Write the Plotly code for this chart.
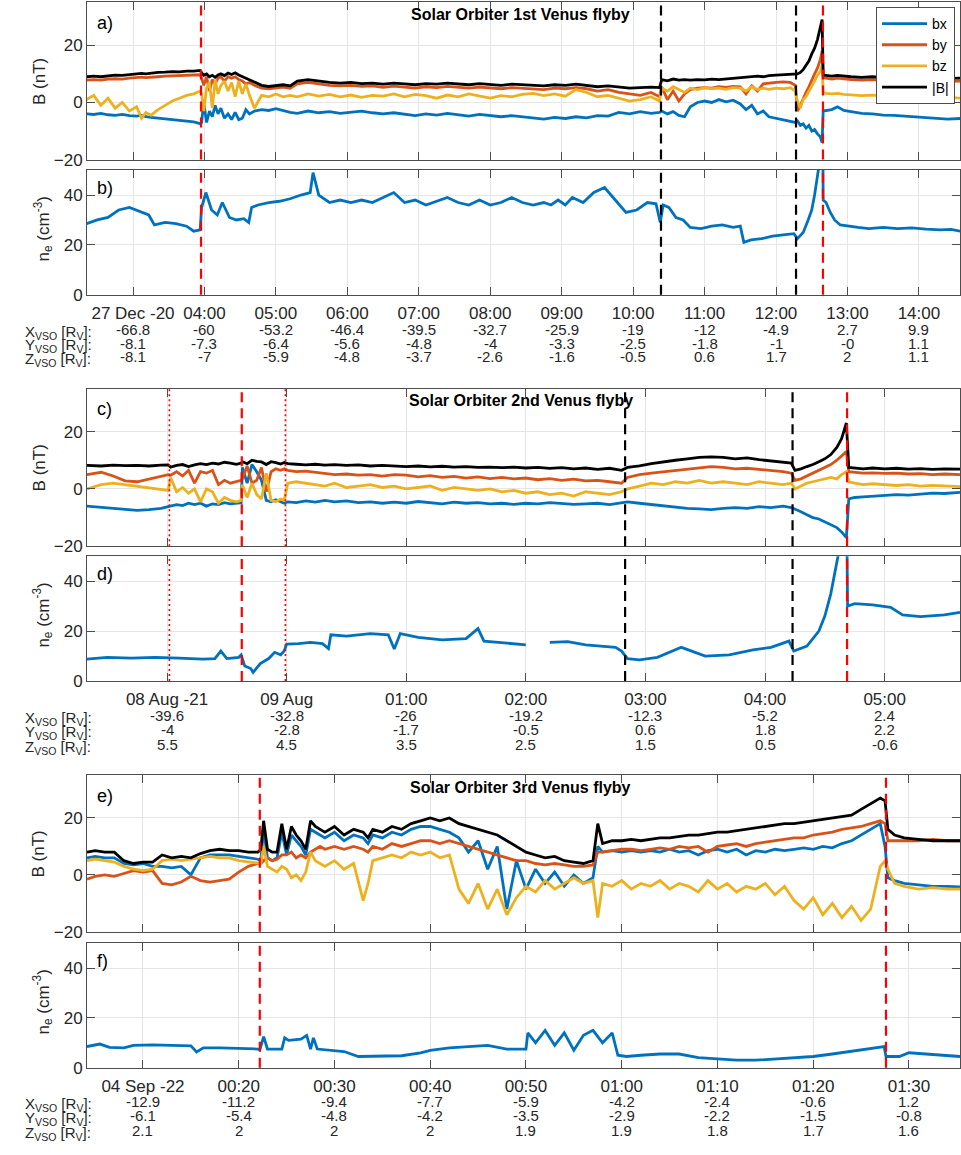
import numpy as np
import pandas as pd
import plotly.graph_objects as go

W, H = 961, 1155
X0, X1 = 87, 960

C_BX, C_BY, C_BZ, C_BT = "#0072BD", "#D95319", "#EDB120", "#000000"
FONT = "Liberation Sans, Arial, sans-serif"
TXT = "#262626"

# ---------------- flyby 1 : 27 Dec 2020 (time in hours) ----------------
t_b1 = [2.35, 2.45, 2.55, 2.65, 2.75, 2.85, 2.95, 3.05, 3.12, 3.18,
        3.25, 3.35, 3.45, 3.55, 3.65, 3.75, 3.85, 3.94, 3.96, 3.99,
        4.03, 4.07, 4.11, 4.15, 4.19, 4.23, 4.28, 4.33, 4.38, 4.43,
        4.48, 4.53, 4.58, 4.63, 4.70, 4.80, 4.90, 5.00, 5.10, 5.20,
        5.30, 5.45, 5.60, 5.75, 5.90, 6.05, 6.20, 6.35, 6.50, 6.65,
        6.80, 6.95, 7.10, 7.25, 7.40, 7.55, 7.70, 7.85, 8.00, 8.15,
        8.30, 8.45, 8.60, 8.75, 8.90, 9.05, 9.20, 9.35, 9.50, 9.65,
        9.80, 9.95, 10.10, 10.25, 10.37, 10.40, 10.48, 10.56, 10.64, 10.72,
        10.80, 10.90, 11.00, 11.10, 11.20, 11.30, 11.40, 11.50, 11.58, 11.66,
        11.74, 11.82, 11.90, 12.00, 12.10, 12.20, 12.27, 12.30, 12.34, 12.38,
        12.42, 12.46, 12.50, 12.54, 12.58, 12.62, 12.645, 12.66, 12.70, 12.78,
        12.86, 12.95, 13.05, 13.20, 13.35, 13.50, 13.65, 13.80, 13.95, 14.10,
        14.25, 14.40, 14.58]
bt1 = [9.0, 9.2, 9.0, 9.4, 9.6, 9.5, 9.8, 10.0, 10.2, 10.0,
       10.3, 10.5, 10.6, 10.8, 10.7, 11.0, 11.0, 11.2, 10.4, 9.5,
       10.0, 9.0, 9.5, 8.8, 9.6, 10.0, 9.4, 10.3, 9.8, 10.4,
       9.6, 9.0, 8.4, 8.0, 7.0, 6.0, 5.6, 5.8, 6.2, 5.8,
       7.5, 8.0, 7.5, 7.0, 6.8, 7.0, 6.6, 6.8, 6.4, 6.8,
       6.5, 6.2, 6.6, 6.4, 6.8, 6.5, 6.2, 6.6, 6.3, 6.0,
       6.4, 6.2, 6.0, 5.8, 6.2, 6.0, 6.4, 6.0, 5.5, 5.8,
       5.4, 5.0, 5.2, 5.4, 5.2, 8.0, 7.6, 8.2, 7.8, 8.0,
       7.8, 8.0, 7.9, 8.2, 8.0, 8.2, 8.3, 8.5, 8.8, 9.0,
       9.2, 9.0, 9.4, 9.6, 9.8, 10.0, 10.2, 10.0, 10.5, 11.5,
       13.0, 14.5, 17.0, 19.0, 22.0, 26.0, 29.0, 9.6, 9.4, 9.2,
       9.5, 9.2, 9.0, 8.8, 9.0, 8.7, 8.8, 8.6, 8.7, 8.5,
       8.6, 8.4, 8.5]
by1 = [7.8, 8.0, 7.8, 8.2, 8.3, 8.2, 8.5, 8.6, 8.9, 8.7,
       8.9, 9.0, 9.2, 9.3, 9.2, 9.5, 9.6, 9.7, 8.5, 6.0,
       9.0, 4.0, 8.0, 6.5, 8.5, 9.0, 7.5, 9.0, 8.5, 9.0,
       8.0, 7.5, 6.5, 7.0, 6.0, 5.0, 4.8, 5.0, 5.4, 5.0,
       6.5, 7.0, 6.5, 6.0, 5.8, 6.0, 5.6, 5.8, 5.3, 5.7,
       5.4, 5.0, 5.5, 5.2, 5.6, 5.3, 5.0, 5.4, 5.0, 4.8,
       5.2, 5.0, 4.8, 4.5, 5.0, 4.8, 5.2, 4.8, 4.0, 4.5,
       3.5, 3.0, 2.5, 3.5, 2.0, 5.5, 1.0, 4.0, 0.5, 3.0,
       4.5, 5.0, 5.2, 5.0, 5.5, 5.3, 5.6, 5.5, 3.0, 5.8,
       4.0, 6.5, 6.8, 7.0, 7.2, 7.0, 6.0, -3.0, -1.0, 1.5,
       3.5, 5.5, 8.0, 10.0, 12.0, 15.0, 18.0, 8.8, 8.5, 8.2,
       8.5, 8.2, 8.0, 7.8, 8.0, 7.7, 7.8, 7.6, 7.7, 7.5,
       7.6, 7.4, 7.5]
bz1 = [1.0, 2.5, -1.0, 1.5, -2.0, 0.0, -3.0, -1.5, -5.5, -3.5,
       -4.5, -2.5, -1.0, 0.5, 1.5, 2.5, 3.0, 4.0, 3.0, -3.0,
       5.0, 7.0, -2.0, 8.0, 3.0, 6.0, 7.5, 4.0, 7.0, 2.0,
       7.5, 3.0, 6.5, 2.5, -2.0, 2.5, 2.0, 3.0, 2.0, 2.5,
       2.0, 3.0, 2.2, 2.8, 2.0, 2.6, 1.8, 2.5, 2.2, 3.0,
       2.0, 2.8, 2.4, 1.5, 2.6, 2.0, 3.0, 2.2, 1.5, 2.4,
       2.0, 2.8, 3.2, 2.4, 3.0, 2.2, 4.5, 3.5, 2.0, 2.5,
       1.5, 0.5, 1.0, 2.0, 0.5, 5.0, 4.0, 5.5, 4.5, 3.5,
       5.0, 4.5, 5.2, 4.8, 5.0, 4.6, 5.2, 5.0, 4.0, 5.5,
       4.5, 5.0, 4.6, 5.0, 4.8, 5.2, 4.0, 0.5, -2.0, 1.0,
       2.0, 4.0, 6.0, 8.0, 9.5, 11.0, 13.0, 3.5, 3.2, 3.0,
       3.2, 2.8, 2.6, 2.4, 2.6, 2.2, 2.0, 2.2, 1.8, 2.0,
       1.6, 1.8, 1.5]
bx1 = [-4.0, -4.2, -3.8, -4.3, -4.5, -4.2, -4.6, -4.8, -4.5, -5.0,
       -5.2, -5.5, -5.8, -6.0, -6.2, -6.5, -6.8, -7.4, -7.0, 0.0,
       -7.0, -3.0, -5.0, -1.0, -4.0, -2.0, -5.5, -4.0, -6.0, -3.5,
       -6.0, -5.5, -2.5, -4.0, -3.0, -2.5, -2.8, -2.2, -2.8, -3.5,
       -3.8, -3.0, -3.6, -3.2, -3.8, -3.4, -3.0, -3.6, -4.0, -3.6,
       -4.2, -4.6, -4.0, -4.4, -3.8, -4.4, -4.8, -4.2, -4.6, -5.0,
       -4.6, -5.0, -5.4, -5.8, -5.2, -5.6, -5.0, -5.4, -4.6, -4.8,
       -3.5, -4.0, -3.2, -3.8, -3.5, -3.0, -4.0, -3.2, -4.5, -5.0,
       -1.5, 0.0, 0.5, 0.0, 1.0, 0.2, 0.8, -0.5, -2.5, -1.0,
       -4.0, -3.0, -5.0, -5.5, -6.0, -6.5, -7.0, -6.5, -8.0, -7.5,
       -9.0, -8.0, -10.0, -9.5, -11.0, -12.0, -14.0, -3.0, -2.8, -2.5,
       -1.5, -2.8, -3.2, -3.8, -4.0, -4.4, -4.5, -4.8, -5.0, -5.4,
       -5.5, -5.8, -5.6]

t_ne1 = [2.35, 2.5, 2.65, 2.8, 2.95, 3.05, 3.15, 3.22, 3.3, 3.45,
         3.6, 3.75, 3.85, 3.94, 3.96, 4.02, 4.1, 4.18, 4.25, 4.35,
         4.45, 4.55, 4.62, 4.66, 4.75, 4.9, 5.05, 5.2, 5.35, 5.48,
         5.52, 5.6, 5.75, 5.9, 6.05, 6.2, 6.35, 6.5, 6.65, 6.8,
         6.95, 7.1, 7.25, 7.4, 7.55, 7.7, 7.85, 8.0, 8.15, 8.3,
         8.45, 8.6, 8.75, 8.85, 8.95, 9.05, 9.15, 9.3, 9.45, 9.6,
         9.75, 9.9, 10.05, 10.2, 10.32, 10.38, 10.42, 10.5, 10.6, 10.7,
         10.8, 10.95, 11.1, 11.25, 11.4, 11.5, 11.55, 11.65, 11.8, 11.95,
         12.1, 12.25, 12.3, 12.38, 12.45, 12.5, 12.54, 12.58, 12.62, 12.655,
         12.66, 12.7, 12.76, 12.82, 12.9, 13.0, 13.15, 13.3, 13.5, 13.7,
         13.9, 14.1, 14.3, 14.45, 14.58]
ne1 = [28.5, 30.0, 31.0, 34.0, 35.0, 34.0, 33.0, 32.0, 28.0, 29.0,
       28.5, 27.5, 25.5, 26.0, 35.0, 41.0, 34.0, 32.0, 37.0, 31.0,
       30.0, 30.5, 29.0, 35.0, 36.0, 37.0, 37.5, 38.5, 40.0, 41.0,
       49.0, 40.0, 37.0, 38.0, 37.0, 38.0, 37.0, 39.0, 41.0, 37.0,
       38.0, 36.0, 37.5, 39.0, 37.0, 36.0, 38.0, 36.0, 37.0, 39.0,
       37.0, 36.0, 37.0, 36.0, 38.0, 36.0, 39.0, 37.0, 41.0, 43.0,
       38.0, 33.0, 34.0, 37.0, 36.5, 29.0, 36.0, 35.0, 31.0, 30.0,
       27.0, 26.5, 27.5, 28.0, 27.0, 27.5, 21.0, 22.0, 22.5, 23.5,
       24.0, 24.5, 22.5, 25.0, 30.0, 34.0, 40.0, 50.0, 60.0, 62.0,
       38.0, 37.0, 33.0, 30.0, 28.0, 27.5, 27.0, 26.5, 27.0, 26.5,
       26.8, 26.3, 26.0, 26.2, 25.5]

tick_h1 = [3, 4, 5, 6, 7, 8, 9, 10, 11, 12, 13, 14]
tick_lbl1 = ["27 Dec -20", "04:00", "05:00", "06:00", "07:00", "08:00", "09:00",
             "10:00", "11:00", "12:00", "13:00", "14:00"]
xvso1 = ["-66.8", "-60", "-53.2", "-46.4", "-39.5", "-32.7", "-25.9", "-19", "-12", "-4.9", "2.7", "9.9"]
yvso1 = ["-8.1", "-7.3", "-6.4", "-5.6", "-4.8", "-4", "-3.3", "-2.5", "-1.8", "-1", "-0", "1.1"]
zvso1 = ["-8.1", "-7", "-5.9", "-4.8", "-3.7", "-2.6", "-1.6", "-0.5", "0.6", "1.7", "2", "1.1"]
marks1 = [(3.952, "red", "dash"), (10.39, "black", "dash"),
          (12.28, "black", "dash"), (12.657, "red", "dash")]

# ---------------- flyby 2 : 08/09 Aug 2021 (hours from 08 Aug 00:00) ----------------
t_b2 = [22.33, 22.45, 22.55, 22.65, 22.75, 22.85, 22.95, 23.01, 23.03, 23.08,
        23.13, 23.18, 23.23, 23.28, 23.33, 23.38, 23.43, 23.48, 23.53, 23.58,
        23.62, 23.63, 23.67, 23.71, 23.75, 23.79, 23.83, 23.87, 23.91, 23.95,
        23.98, 24.01, 24.08, 24.16, 24.24, 24.32, 24.40, 24.50, 24.60, 24.70,
        24.80, 24.90, 25.00, 25.10, 25.20, 25.30, 25.40, 25.50, 25.60, 25.70,
        25.80, 25.90, 26.00, 26.10, 26.20, 26.30, 26.40, 26.50, 26.60, 26.70,
        26.80, 26.85, 26.95, 27.05, 27.15, 27.25, 27.35, 27.45, 27.55, 27.65,
        27.75, 27.85, 27.95, 28.05, 28.15, 28.22, 28.25, 28.30, 28.35, 28.40,
        28.45, 28.50, 28.55, 28.60, 28.64, 28.68, 28.70, 28.75, 28.82, 28.90,
        29.00, 29.10, 29.20, 29.30, 29.40, 29.50, 29.63]
bt2 = [8.2, 8.0, 8.3, 8.1, 8.2, 8.0, 8.3, 8.4, 7.6, 8.2,
       8.5, 7.8, 8.4, 8.8, 8.5, 9.0, 8.7, 9.3, 9.0, 8.6,
       9.0, 9.5, 8.8, 10.0, 9.6, 9.4, 8.5, 9.5, 9.2, 8.7,
       9.2, 8.8, 8.6, 8.4, 8.6, 8.3, 8.5, 8.2, 8.4, 8.0,
       8.2, 8.0, 7.8, 8.0, 7.7, 7.9, 7.6, 7.8, 7.5, 7.6,
       7.4, 7.6, 7.3, 7.5, 7.2, 7.4, 7.0, 7.3, 6.8, 7.2,
       6.5, 7.5, 8.0, 8.8, 9.5, 10.0, 10.5, 11.0, 11.2, 11.0,
       10.5, 10.8, 10.2, 9.8, 9.5, 9.0, 6.5, 7.0, 7.8, 8.5,
       9.5, 10.5, 12.0, 14.5, 17.5, 23.0, 7.5, 7.2, 7.0, 7.3,
       7.0, 7.2, 6.9, 7.1, 6.8, 7.0, 6.9]
by2 = [5.0, 5.8, 4.5, 2.8, 2.5, 3.5, 4.5, 5.0, 4.8, 6.0,
       4.5, 6.5, 2.0, 6.0, 5.5, 6.5, 1.5, 3.0, 2.0, 2.5,
       3.0, 3.5, 8.0, 2.0, 3.0, 7.5, -1.0, 6.0, 7.0, 6.5,
       7.0, 6.5, 6.0, 6.2, 5.8, 5.5, 5.0, 5.2, 4.8, 5.0,
       4.5, 5.0, 4.8, 4.2, 4.6, 4.0, 4.4, 3.8, 4.2, 3.6,
       4.0, 3.5, 3.8, 3.2, 3.6, 3.0, 3.4, 2.8, 3.0, 2.5,
       2.0, 4.0, 5.0, 5.5, 6.0, 6.5, 7.0, 7.5, 7.8, 7.5,
       7.0, 7.2, 6.8, 6.5, 6.0, 5.5, 3.0, 3.5, 4.5, 5.5,
       6.5, 7.5, 8.5, 10.0, 11.5, 13.0, 6.0, 5.8, 5.5, 5.6,
       5.4, 5.5, 5.2, 5.3, 5.0, 5.2, 5.0]
bz2 = [0.0, 1.5, 2.0, 1.5, 0.8, 0.5, 0.0, -0.5, 4.0, -1.0,
       0.5, -1.5, 0.0, -4.5, 0.0, -1.0, -5.0, -3.0, -4.0, -4.5,
       -4.0, 1.5, -3.0, 2.0, -2.0, -3.5, 5.5, -4.0, -4.5, -3.5,
       -4.0, 2.0, 2.5, 2.0, 1.5, 1.0, 2.0, 0.5, 1.0, 1.5,
       0.5, 1.0, 0.0, 0.5, 1.0, -0.5, 0.5, 0.0, -0.5, 0.0,
       -1.0, -0.5, -1.5, -1.0, -2.0, -1.5, -2.5, -1.0, -1.5, -2.0,
       -1.0, 0.0, 1.0, 2.0, 1.5, 2.5, 2.0, 3.0, 2.0, 2.5,
       2.0, 1.5, 2.5, 2.0, 1.5, 2.0, 0.0, 1.0, 2.0, 2.5,
       3.0, 3.5, 4.0, 3.5, 5.0, 6.0, 2.5, 2.0, 1.5, 1.8,
       1.5, 1.2, 1.5, 1.0, 1.2, 1.0, 0.8]
bx2 = [-6.0, -6.5, -6.8, -7.3, -7.5, -7.2, -6.8, -6.2, -6.0, -5.5,
       -5.8, -5.0, -5.5, -5.0, -6.0, -5.2, -5.5, -4.8, -5.2, -5.0,
       -4.8, 7.5, 2.0, 8.5, 6.0, 3.0, -4.0, -4.5, -3.8, -4.5,
       -5.0, -4.5, -4.8, -4.2, -4.6, -4.0, -4.5, -4.2, -4.8, -4.5,
       -5.0, -4.6, -5.0, -4.4, -4.8, -5.2, -4.6, -5.0, -4.8, -5.2,
       -5.0, -5.4, -5.0, -5.2, -4.8, -5.0, -5.4, -5.2, -5.0, -5.5,
       -5.0, -4.5, -5.0, -5.5, -6.0, -6.5, -6.8, -7.0, -7.2, -6.8,
       -6.5, -6.8, -6.2, -6.5, -6.0, -6.5, -7.0, -8.0, -9.0, -10.0,
       -10.5, -11.5, -12.5, -13.5, -15.0, -17.0, -3.5, -3.0, -2.8, -2.5,
       -2.2, -2.0, -2.2, -1.8, -1.5, -1.6, -1.2]

t_ne2 = [22.33, 22.5, 22.7, 22.9, 23.1, 23.3, 23.4, 23.45, 23.5, 23.6,
         23.62, 23.65, 23.7, 23.72, 23.78, 23.85, 23.9, 23.95, 23.98, 24.0,
         24.1, 24.2, 24.3, 24.35, 24.37, 24.5, 24.7, 24.85, 24.9, 24.95,
         25.1, 25.3, 25.5, 25.6, 25.65, 25.75, 25.9, 26.0, 26.01, 26.2,
         26.35, 26.5, 26.6, 26.75, 26.8, 26.85, 26.95, 27.1, 27.3, 27.5,
         27.7, 27.9, 28.05, 28.2, 28.24, 28.35, 28.45, 28.5, 28.55, 28.6,
         28.65, 28.685, 28.69, 28.75, 28.9, 29.05, 29.15, 29.3, 29.5, 29.63]
ne2 = [8.8, 9.5, 9.2, 9.5, 9.2, 8.8, 9.0, 12.0, 9.0, 9.5,
       10.5, 6.0, 5.0, 3.5, 7.0, 9.0, 11.5, 10.5, 12.0, 14.8,
       15.0, 15.5, 15.0, 13.0, 18.5, 18.0, 19.0, 18.5, 12.8, 19.0,
       17.5, 16.5, 17.0, 21.0, 16.0, 15.5, 15.0, 14.5, None, 15.5,
       15.8, 14.5, 14.0, 13.5, 12.0, 9.0, 8.5, 9.5, 13.5, 10.0,
       10.5, 12.5, 13.5, 16.0, 12.0, 14.0, 20.0, 26.0, 35.0, 48.0,
       60.0, 55.0, 30.0, 31.0, 30.5, 29.5, 26.5, 25.8, 26.5, 27.5]

tick_h2 = [23, 24, 25, 26, 27, 28, 29]
tick_lbl2 = ["08 Aug -21", "09 Aug", "01:00", "02:00", "03:00", "04:00", "05:00"]
xvso2 = ["-39.6", "-32.8", "-26", "-19.2", "-12.3", "-5.2", "2.4"]
yvso2 = ["-4", "-2.8", "-1.7", "-0.5", "0.6", "1.8", "2.2"]
zvso2 = ["5.5", "4.5", "3.5", "2.5", "1.5", "0.5", "-0.6"]
marks2 = [(23.02, "red", "dot"), (23.625, "red", "dash"), (23.99, "red", "dot"),
          (26.83, "black", "dash"), (28.23, "black", "dash"), (28.686, "red", "dash")]

# ---------------- flyby 3 : 04 Sep 2022 (minutes from 00:00) ----------------
t_b3 = [4.15, 5, 6, 7, 8, 9, 10, 11, 12, 13,
        14, 15, 16, 17, 18, 19, 20, 21, 22, 22.3,
        22.6, 23, 23.5, 24, 24.5, 25, 25.5, 26, 26.5, 27,
        27.5, 28, 28.5, 29, 30, 31, 32, 33, 33.5, 34,
        35, 36, 37, 38, 39, 40, 41, 42, 43, 44,
        45, 46, 47, 48, 49, 50, 51, 52, 53, 54,
        55, 56, 57, 57.5, 58, 59, 60, 61, 62, 63,
        64, 65, 66, 67, 68, 69, 70, 71, 72, 73,
        74, 75, 76, 77, 78, 79, 80, 81, 82, 83,
        84, 85, 86, 87, 87.5, 87.8, 88.5, 89.5, 91, 92.5,
        94, 95.33]
bt3 = [8, 8.5, 8, 8, 5, 4, 4.5, 4.5, 7, 6,
       6.5, 6, 7.5, 8.5, 9, 8.5, 8.5, 8, 8, 9,
       19, 9, 8, 8, 18, 9, 17, 14, 12, 9,
       19, 17, 16, 15, 17, 14, 16, 15, 13, 16,
       15, 17, 16, 18, 19, 20, 19, 20, 18, 17,
       16, 15, 14, 12, 10, 8, 7, 6, 6.5, 5,
       4.5, 4, 5, 18, 11, 12, 12, 12.5, 12, 12.5,
       13, 13, 13.5, 14, 14, 14.5, 15, 15, 15.5, 16,
       16.5, 17, 17.5, 18, 18, 18.5, 19, 19.5, 20, 20.5,
       21, 23, 25, 27, 26, 16, 14, 13, 12.5, 12,
       12, 12]
by3 = [-1.5, -0.5, 0, -0.5, 0.5, 1.5, 1, 1.5, -3, -3.5,
       -2.5, -0.5, -2, -2.5, -2, -1.5, 1, 3, 4, 4,
       5, 6, 5, 5.5, 7, 7, 8, 6, 7, 6,
       8, 9, 10, 9, 10, 9, 10, 9, 8, 10,
       9, 11, 10, 11, 12, 12, 11, 12, 11, 10,
       9, 8, 7, 6, 5, 5, 4, 3.5, 4, 3.5,
       3, 3, 3.5, 8, 8, 8.5, 9, 9, 8.5, 9,
       9.5, 9, 10, 9.5, 10, 8, 10, 10.5, 11, 10,
       11, 11.5, 12, 12.5, 13, 13, 14, 14.5, 15, 16,
       16.5, 17, 18, 19, 18, 12, 12, 12, 12, 12.5,
       12, 12]
bz3 = [5, 5.5, 5, 4.5, 3, 2, 1.5, 2, 5, 5.5,
       5, 5.5, 6, 6.5, 6, 6, 5, 4.5, 4, 4,
       10, 3, 2, 1, 3, 2, -1, 0, -2, 1,
       8, 5, 4, 3, 5, 2, 4, -9, -3, 5,
       6, 7, 6, 8, 7, 8, 6, 7, -5, -10,
       -3, -12, -5, -14, -8, -4, -6, -2, -5, -3,
       -1, -3, -2, -15, -3, -4, -2, -5, -3, -4,
       -2, -5, -3, -4, -6, -2, -5, -3, -6, -4,
       -5, -3, -7, -4, -9, -12, -8, -14, -10, -15,
       -11, -16, -12, 3, 5, 2, -3, -4, -5, -4.5,
       -5, -5]
bx3 = [6, 6.5, 6, 6, 4, 3.5, 4, 3, 3, 2.5,
       3, 0, 6, 7, 7, 7, 6.5, 6, 5.5, 5,
       16, 6, 5, 6, 15, 7, 14, 12, 10, 7,
       16, 15, 14, 13, 15, 12, 14, 13, 11, 14,
       13, 15, 14, 16, 17, 17, 16, 15, 13, 8,
       12, 2, 10, -12, 5, -5, 2, -3, 1, -4,
       0, -3, -1, 10, 8, 8.5, 8, 8.5, 8, 8.5,
       8, 9, 8, 8.5, 7, 8.5, 9, 8, 9, 7,
       8.5, 8, 9, 8.5, 9, 9.5, 9, 10, 9.5, 11,
       12, 14, 16, 18, 10, -1, -2, -3, -3.5, -4,
       -4, -4.2]

t_ne3 = [4.15, 5.5, 6.5, 8, 9, 11, 13, 15, 15.6, 16.3,
         18, 20, 22, 22.2, 22.6, 23, 24.5, 24.8, 25.2, 26.5,
         27.1, 27.5, 27.8, 28.2, 29.5, 31, 32.5, 35, 37, 39,
         40, 42, 44, 46, 48, 50, 50.2, 51, 52, 53,
         54, 55, 56, 57, 58, 59, 59.6, 60.5, 62, 64,
         66, 68, 70, 72, 74, 76, 78, 80, 82, 84,
         86, 87.4, 87.6, 89, 90, 92, 94, 95.33]
ne3 = [8.5, 9.5, 8.2, 8.0, 9.0, 9.2, 9.0, 8.8, 6.3, 8.0,
       8.0, 7.8, 7.5, 7.2, 12.5, 7.5, 7.5, 12.0, 11.0, 11.5,
       13.0, 7.5, 12.0, 7.5, 7.0, 6.5, 4.5, 4.5, 4.8, 6.0,
       7.0, 8.0, 8.5, 9.0, 7.5, 7.5, 14.0, 10.0, 15.0, 9.0,
       14.0, 7.0, 13.0, 15.0, 10.0, 14.0, 5.0, 4.5, 5.0, 5.5,
       5.5, 4.0, 3.5, 3.0, 3.0, 3.5, 4.0, 4.5, 5.5, 6.5,
       7.5, 8.5, 4.5, 4.5, 6.0, 5.5, 5.0, 4.5]

tick_m3 = [10, 20, 30, 40, 50, 60, 70, 80, 90]
tick_lbl3 = ["04 Sep -22", "00:20", "00:30", "00:40", "00:50", "01:00", "01:10", "01:20", "01:30"]
xvso3 = ["-12.9", "-11.2", "-9.4", "-7.7", "-5.9", "-4.2", "-2.4", "-0.6", "1.2"]
yvso3 = ["-6.1", "-5.4", "-4.8", "-4.2", "-3.5", "-2.9", "-2.2", "-1.5", "-0.8"]
zvso3 = ["2.1", "2", "2", "2", "1.9", "1.9", "1.8", "1.7", "1.6"]
marks3 = [(22.2, "red", "dash"), (87.6, "red", "dash")]

# ---------------------------------------------------------------------
for a, b in [(t_b1, bx1), (t_b1, by1), (t_b1, bz1), (t_b1, bt1), (t_ne1, ne1),
             (t_b2, bx2), (t_b2, by2), (t_b2, bz2), (t_b2, bt2), (t_ne2, ne2),
             (t_b3, bx3), (t_b3, by3), (t_b3, bz3), (t_b3, bt3), (t_ne3, ne3)]:
    assert len(a) == len(b), (len(a), len(b))


def px(x):
    return x / W


def py(y):
    return 1 - y / H


def stamps(base, vals, unit):
    return [base + pd.Timedelta(v, unit=unit) for v in vals]


def iso(ts):
    return ts.strftime("%Y-%m-%d %H:%M:%S")


flybys = [
    dict(base=pd.Timestamp("2020-12-27"), unit="h", rng=(2.3562, 14.575),
         tb=t_b1, bx=bx1, by=by1, bz=bz1, bt=bt1, tne=t_ne1, ne=ne1,
         ticks=tick_h1, lbls=tick_lbl1, pos=(xvso1, yvso1, zvso1), marks=marks1,
         title="Solar Orbiter 1st Venus flyby",
         pB=(2.5, 161.0), pN=(171.6, 297.3), rows=(313, 332, 346, 360), letters=("a)", "b)")),
    dict(base=pd.Timestamp("2021-08-08"), unit="h", rng=(22.331, 29.630),
         tb=t_b2, bx=bx2, by=by2, bz=bz2, bt=bt2, tne=t_ne2, ne=ne2,
         ticks=tick_h2, lbls=tick_lbl2, pos=(xvso2, yvso2, zvso2), marks=marks2,
         title="Solar Orbiter 2nd Venus flyby",
         pB=(392.0, 551.0), pN=(561.0, 687.0), rows=(703, 722, 736, 751), letters=("c)", "d)")),
    dict(base=pd.Timestamp("2022-09-04"), unit="m", rng=(4.152, 95.33),
         tb=t_b3, bx=bx3, by=by3, bz=bz3, bt=bt3, tne=t_ne3, ne=ne3,
         ticks=tick_m3, lbls=tick_lbl3, pos=(xvso3, yvso3, zvso3), marks=marks3,
         title="Solar Orbiter 3rd Venus flyby",
         pB=(782.0, 940.0), pN=(951.6, 1077.0), rows=(1093, 1111, 1125, 1140), letters=("e)", "f)")),
]

fig = go.Figure()
layout = dict(width=W, height=H, margin=dict(l=0, r=0, t=0, b=0),
              paper_bgcolor="white", plot_bgcolor="white",
              font=dict(family=FONT, size=15, color=TXT), showlegend=True)
annotations, shapes = [], []

axis_common = dict(showline=True, linecolor="#4d4d4d", linewidth=1, mirror="ticks",
                   ticks="inside", ticklen=8, tickwidth=1, tickcolor="#4d4d4d",
                   showgrid=True, gridcolor="#e6e6e6", gridwidth=1, zeroline=False,
                   tickfont=dict(family=FONT, size=17, color=TXT))

for k, fb in enumerate(flybys):
    base, unit = fb["base"], fb["unit"]
    ia, ib = 2 * k + 1, 2 * k + 2
    xa, ya = ("x" if ia == 1 else f"x{ia}"), ("y" if ia == 1 else f"y{ia}")
    xb, yb = f"x{ib}", f"y{ib}"
    lo, hi = stamps(base, fb["rng"], unit)
    tickvals = stamps(base, fb["ticks"], unit)

    tb = stamps(base, fb["tb"], unit)
    for name, vals, col in [("bx", fb["bx"], C_BX), ("by", fb["by"], C_BY),
                            ("bz", fb["bz"], C_BZ), ("|B|", fb["bt"], C_BT)]:
        fig.add_trace(go.Scatter(x=tb, y=vals, mode="lines", name=name,
                                 line=dict(color=col, width=2.8),
                                 xaxis=xa, yaxis=ya, showlegend=(k == 0)))
    fig.add_trace(go.Scatter(x=stamps(base, fb["tne"], unit), y=fb["ne"], mode="lines",
                             name="ne", line=dict(color=C_BX, width=2.8),
                             xaxis=xb, yaxis=yb, showlegend=False, connectgaps=False))

    top, bot = fb["pB"]
    layout["xaxis" if ia == 1 else f"xaxis{ia}"] = dict(
        axis_common, domain=[px(X0), px(X1)], anchor=ya, type="date",
        range=[lo, hi], tickvals=tickvals, showticklabels=False)
    layout["yaxis" if ia == 1 else f"yaxis{ia}"] = dict(
        axis_common, domain=[py(bot), py(top)], anchor=xa,
        range=[-20, 35], tickvals=[-20, 0, 20])
    top2, bot2 = fb["pN"]
    layout[f"xaxis{ib}"] = dict(
        axis_common, domain=[px(X0), px(X1)], anchor=yb, type="date",
        range=[lo, hi], tickvals=tickvals, ticktext=fb["lbls"], showticklabels=True,
        ticklabelstandoff=3)
    layout[f"yaxis{ib}"] = dict(
        axis_common, domain=[py(bot2), py(top2)], anchor=xb,
        range=[0, 50], tickvals=[0, 20, 40])

    # boundary crossings
    for (tm, col, style) in fb["marks"]:
        ts = stamps(base, [tm], unit)[0]
        dash = "10px,6px" if style == "dash" else "2px,3px"
        wid = 2.2 if style == "dash" else 1.6
        for xr, yr in [(xa, ya), (xb, yb)]:
            shapes.append(dict(type="line", xref=xr, yref=f"{yr} domain",
                               x0=ts, x1=ts, y0=0, y1=1,
                               line=dict(color=col, width=wid, dash=dash)))

    # titles, panel letters, axis labels
    annotations.append(dict(text=f"<b>{fb['title']}</b>", xref="paper", yref="paper",
                            x=px((X0 + X1) / 2 - 3), y=py(top + 12), showarrow=False,
                            font=dict(size=16, color="black"), xanchor="center", yanchor="middle"))
    annotations.append(dict(text=fb["letters"][0], xref="paper", yref="paper",
                            x=px(95), y=py(top + 21), showarrow=False,
                            font=dict(size=18, color="black"), xanchor="left", yanchor="middle"))
    annotations.append(dict(text=fb["letters"][1], xref="paper", yref="paper",
                            x=px(95), y=py(top2 + 18), showarrow=False,
                            font=dict(size=18, color="black"), xanchor="left", yanchor="middle"))
    annotations.append(dict(text="B (nT)", xref="paper", yref="paper", textangle=-90,
                            x=px(39), y=py((top + bot) / 2 + 1), showarrow=False,
                            font=dict(size=17, color=TXT), xanchor="center", yanchor="middle"))
    annotations.append(dict(text="n<sub>e</sub> (cm<sup>-3</sup>)", xref="paper", yref="paper",
                            textangle=-90, x=px(43), y=py((top2 + bot2) / 2 - 3), showarrow=False,
                            font=dict(size=17, color=TXT), xanchor="center", yanchor="middle"))

    # spacecraft position rows
    row_names = ["X", "Y", "Z"]
    for r, (nm, vals) in enumerate(zip(row_names, fb["pos"])):
        yrow = fb["rows"][r + 1]
        annotations.append(dict(text=f"{nm}<sub>VSO</sub> [R<sub>V</sub>]:", xref="paper", yref="paper",
                                x=px(23), y=py(yrow + 3), showarrow=False,
                                font=dict(size=15, color=TXT), xanchor="left", yanchor="middle"))
        for tv, v in zip(tickvals, vals):
            annotations.append(dict(text=v, xref=xb, yref="paper", x=iso(tv), y=py(yrow),
                                    showarrow=False, font=dict(size=15, color=TXT),
                                    xanchor="center", yanchor="middle"))

layout["annotations"] = annotations
layout["shapes"] = shapes
layout["legend"] = dict(x=px(955), y=py(7), xanchor="right", yanchor="top",
                        bgcolor="white", bordercolor="#4d4d4d", borderwidth=1,
                        font=dict(family=FONT, size=14, color="black"),
                        itemwidth=45, tracegroupgap=0)
fig.update_layout(**layout)

fig.write_html("out.html")
